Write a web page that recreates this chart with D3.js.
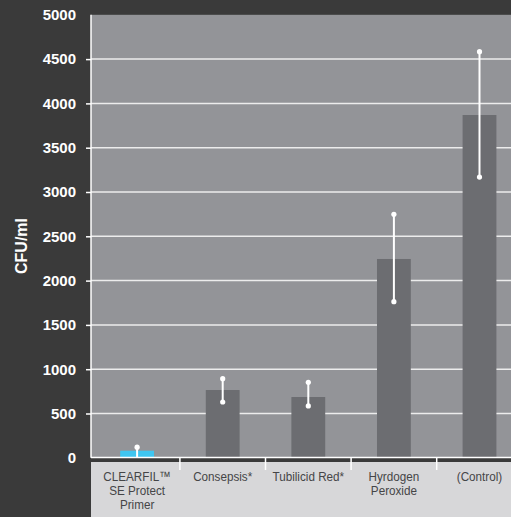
<!DOCTYPE html>
<html>
<head>
<meta charset="utf-8">
<script src="https://cdn.jsdelivr.net/npm/d3@7"></script>
<style>
  body { margin: 0; background: #3a3a3a; }
  svg { display: block; }
  .yaxis text { fill: #ffffff; font-family: "Liberation Sans", Arial, sans-serif; font-weight: bold; font-size: 15px; }
  .yaxis path { display: none; }
  .yaxis line { stroke: #ffffff; stroke-width: 1.5; }
  .cat { fill: #454547; font-family: "Liberation Sans", Arial, sans-serif; font-size: 13.6px; }
</style>
</head>
<body>
<div id="chart"></div>
<script>
// chart data
var categories = ["CLEARFIL™\nSE Protect\nPrimer", "Consepsis*", "Tubilicid Red*", "Hyrdogen\nPeroxide", "(Control)"];
var means = [80, 765, 686, 2244, 3869];
var errLow = [0, 630, 585, 1762, 3169];
var errHigh = [120, 893, 852, 2748, 4584];
var yTicks = [0, 500, 1000, 1500, 2000, 2500, 3000, 3500, 4000, 4500, 5000];
var yLabel = "CFU/ml";

var svgWidth = 511;
var svgHeight = 517;

var plotLeft = 91;
var plotTop = 14.8;
var zeroY = 457.8;

var svg = d3.select("#chart")
  .append("svg")
  .attr("width", svgWidth)
  .attr("height", svgHeight);

// backgrounds
svg.append("rect")
  .attr("width", svgWidth)
  .attr("height", svgHeight)
  .attr("fill", "#3a3a3a");

svg.append("rect")
  .attr("x", plotLeft)
  .attr("y", plotTop)
  .attr("width", svgWidth - plotLeft)
  .attr("height", zeroY - plotTop)
  .attr("fill", "#939498");

svg.append("rect")
  .attr("x", plotLeft)
  .attr("y", 462)
  .attr("width", svgWidth - plotLeft)
  .attr("height", svgHeight - 462)
  .attr("fill", "#d7d7d9");

// scales
var yScale = d3.scaleLinear()
  .domain([0, 5000])
  .range([zeroY, plotTop]);

var xScale = d3.scaleBand()
  .domain(categories)
  .range([94.3, 94.3 + 85.6 * categories.length])
  .padding(0);

var barWidth = xScale.bandwidth() * 0.395;

// gridlines
svg.append("g")
  .selectAll("line")
  .data(yTicks.filter(d => d > 0 && d < 5000))
  .enter()
  .append("line")
  .attr("x1", plotLeft)
  .attr("x2", svgWidth)
  .attr("y1", d => yScale(d))
  .attr("y2", d => yScale(d))
  .attr("stroke", "#ececec")
  .attr("stroke-width", 1.5);

// y axis
var leftAxis = d3.axisLeft(yScale)
  .tickValues(yTicks)
  .tickFormat(d3.format("d"))
  .tickSize(5)
  .tickPadding(10);

svg.append("g")
  .attr("class", "yaxis")
  .attr("transform", `translate(${plotLeft}, 0)`)
  .call(leftAxis);

svg.select(".yaxis").selectAll(".tick")
  .filter(d => d === 5000 || d === 0)
  .select("line").remove();

svg.append("line")
  .attr("x1", plotLeft)
  .attr("x2", plotLeft)
  .attr("y1", plotTop)
  .attr("y2", zeroY)
  .attr("stroke", "#ffffff")
  .attr("stroke-width", 1.5);

// bars
svg.append("g")
  .selectAll("rect")
  .data(categories)
  .enter()
  .append("rect")
  .attr("x", d => xScale(d) + xScale.bandwidth() / 2 - barWidth / 2)
  .attr("y", (d, i) => yScale(means[i]))
  .attr("width", barWidth)
  .attr("height", (d, i) => zeroY - yScale(means[i]))
  .attr("fill", (d, i) => i === 0 ? "#3fc6f1" : "#6c6d71");

// error bars
var errGroup = svg.append("g");
categories.forEach(function(c, i) {
  var cx = xScale(c) + xScale.bandwidth() / 2;
  errGroup.append("line")
    .attr("x1", cx).attr("x2", cx)
    .attr("y1", yScale(errLow[i]))
    .attr("y2", yScale(errHigh[i]))
    .attr("stroke", "#ffffff")
    .attr("stroke-width", 2);
  errGroup.append("circle")
    .attr("cx", cx).attr("cy", yScale(errHigh[i]))
    .attr("r", 2.6).attr("fill", "#ffffff");
  if (errLow[i] > 0) {
    errGroup.append("circle")
      .attr("cx", cx).attr("cy", yScale(errLow[i]))
      .attr("r", 2.6).attr("fill", "#ffffff");
  }
});

// baseline
svg.append("rect")
  .attr("x", plotLeft)
  .attr("y", zeroY)
  .attr("width", svgWidth - plotLeft)
  .attr("height", 462 - zeroY)
  .attr("fill", "#3a3a3a");

svg.append("line")
  .attr("x1", plotLeft)
  .attr("x2", svgWidth)
  .attr("y1", zeroY - 0.3)
  .attr("y2", zeroY - 0.3)
  .attr("stroke", "#ffffff")
  .attr("stroke-width", 1.5);

// category separators
svg.append("g")
  .selectAll("line")
  .data(categories.slice(0, categories.length - 1))
  .enter()
  .append("line")
  .attr("x1", d => xScale(d) + xScale.step())
  .attr("x2", d => xScale(d) + xScale.step())
  .attr("y1", zeroY)
  .attr("y2", 470)
  .attr("stroke", "#ffffff")
  .attr("stroke-width", 1.5);

// category labels, one text per line, squeezed to look condensed
var catGroup = svg.append("g");
categories.forEach(function(c) {
  var cx = xScale(c) + xScale.bandwidth() / 2;
  c.split("\n").forEach(function(line, j) {
    catGroup.append("text")
      .attr("class", "cat")
      .attr("text-anchor", "middle")
      .attr("transform", `translate(${cx}, ${480.5 + j * 14}) scale(0.86, 1)`)
      .text(line);
  });
});

// y label
svg.append("text")
  .attr("transform", "translate(27, 246) rotate(-90)")
  .attr("text-anchor", "middle")
  .attr("fill", "#ffffff")
  .style("font-family", "Liberation Sans, Arial, sans-serif")
  .style("font-weight", "bold")
  .style("font-size", "16px")
  .text(yLabel);
</script>
</body>
</html>
